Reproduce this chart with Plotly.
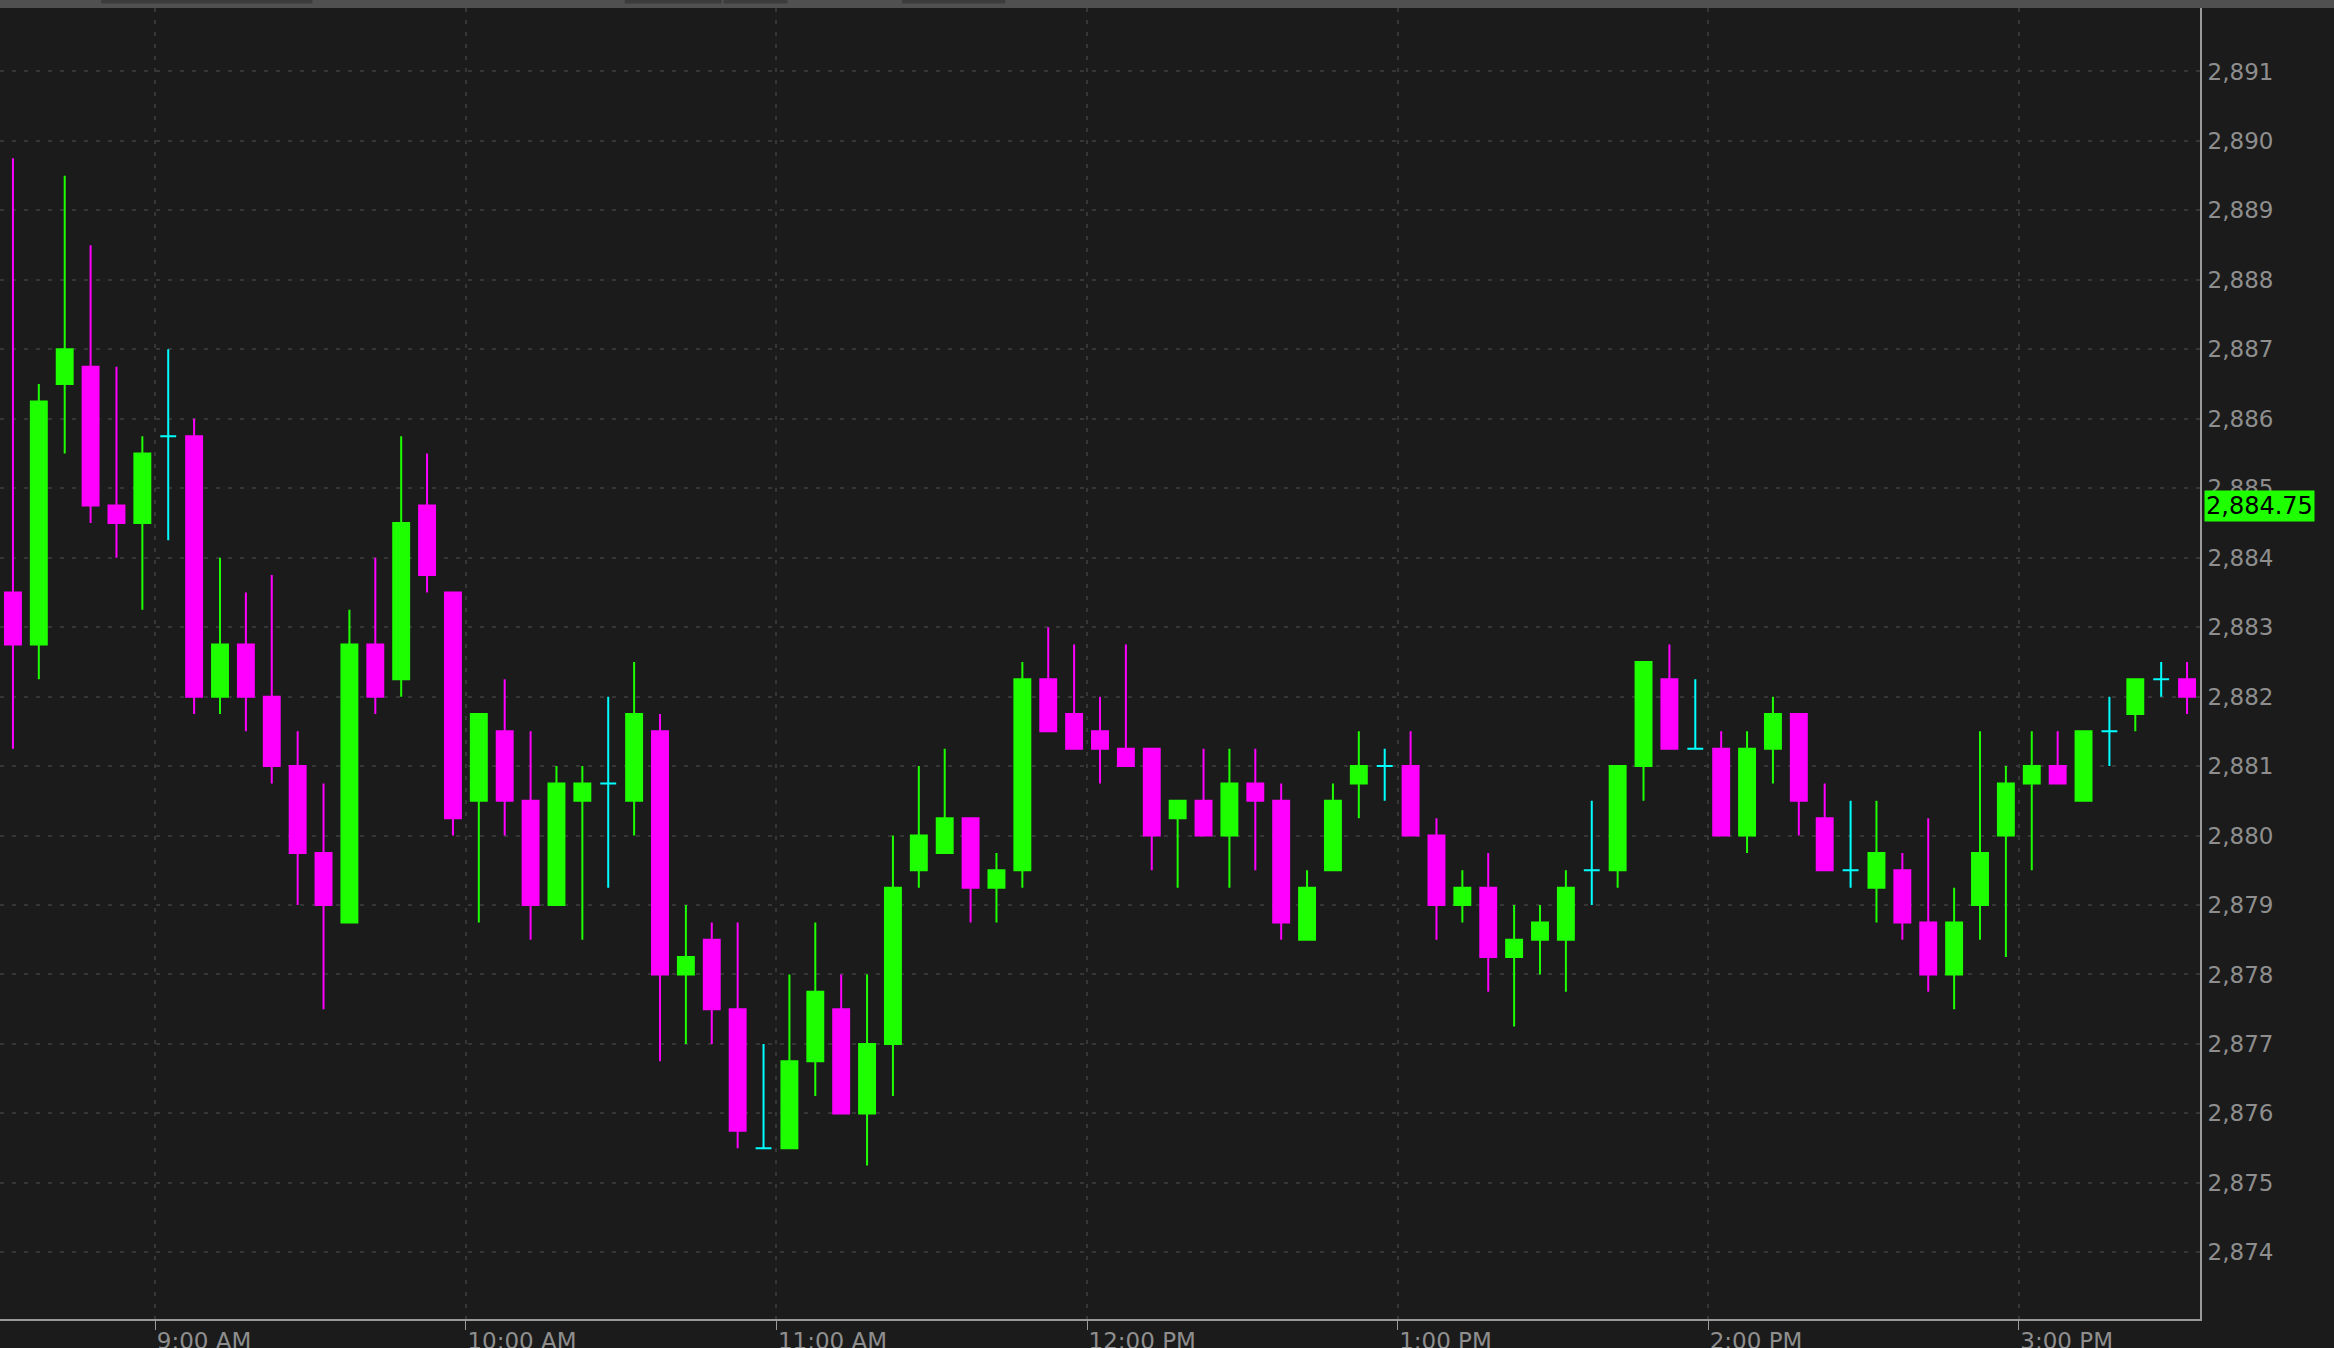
import pandas as pd
import plotly.graph_objects as go

# 5-minute bars, session of one day (bar start times)
bar_times = [
    "08:30", "08:35", "08:40", "08:45", "08:50", "08:55",
    "09:00", "09:05", "09:10", "09:15", "09:20", "09:25", "09:30", "09:35", "09:40", "09:45", "09:50", "09:55",
    "10:00", "10:05", "10:10", "10:15", "10:20", "10:25", "10:30", "10:35", "10:40", "10:45", "10:50", "10:55",
    "11:00", "11:05", "11:10", "11:15", "11:20", "11:25", "11:30", "11:35", "11:40", "11:45", "11:50", "11:55",
    "12:00", "12:05", "12:10", "12:15", "12:20", "12:25", "12:30", "12:35", "12:40", "12:45", "12:50", "12:55",
    "13:00", "13:05", "13:10", "13:15", "13:20", "13:25", "13:30", "13:35", "13:40", "13:45", "13:50", "13:55",
    "14:00", "14:05", "14:10", "14:15", "14:20", "14:25", "14:30", "14:35", "14:40", "14:45", "14:50", "14:55",
    "15:00", "15:05", "15:10", "15:15", "15:20", "15:25", "15:30",
]

open_px = [
    2883.5, 2882.75, 2886.5, 2886.75, 2884.75, 2884.5,
    2885.75, 2885.75, 2882, 2882.75, 2882, 2881, 2879.75, 2878.75, 2882.75, 2882.25, 2884.75, 2883.5,
    2880.5, 2881.5, 2880.5, 2879, 2880.5, 2880.75, 2880.5, 2881.5, 2878, 2878.5, 2877.5, 2875.5,
    2875.5, 2876.75, 2877.5, 2876, 2877, 2879.5, 2879.75, 2880.25, 2879.25, 2879.5, 2882.25, 2881.75,
    2881.5, 2881.25, 2881.25, 2880.25, 2880.5, 2880, 2880.75, 2880.5, 2878.5, 2879.5, 2880.75, 2881,
    2881, 2880, 2879, 2879.25, 2878.25, 2878.5, 2878.5, 2879.5, 2879.5, 2881, 2882.25, 2881.25,
    2881.25, 2880, 2881.25, 2881.75, 2880.25, 2879.5, 2879.25, 2879.5, 2878.75, 2878, 2879, 2880,
    2880.75, 2881, 2880.5, 2881.5, 2881.75, 2882.25, 2882.25,
]
high_px = [
    2889.75, 2886.5, 2889.5, 2888.5, 2886.75, 2885.75,
    2887, 2886, 2884, 2883.5, 2883.75, 2881.5, 2880.75, 2883.25, 2884, 2885.75, 2885.5, 2883.5,
    2881.75, 2882.25, 2881.5, 2881, 2881, 2882, 2882.5, 2881.75, 2879, 2878.75, 2878.75, 2877,
    2878, 2878.75, 2878, 2878, 2880, 2881, 2881.25, 2880.25, 2879.75, 2882.5, 2883, 2882.75,
    2882, 2882.75, 2881.25, 2880.5, 2881.25, 2881.25, 2881.25, 2880.75, 2879.5, 2880.75, 2881.5, 2881.25,
    2881.5, 2880.25, 2879.5, 2879.75, 2879, 2879, 2879.5, 2880.5, 2881, 2882.5, 2882.75, 2882.25,
    2881.5, 2881.5, 2882, 2881.75, 2880.75, 2880.5, 2880.5, 2879.75, 2880.25, 2879.25, 2881.5, 2881,
    2881.5, 2881.5, 2881.5, 2882, 2882.25, 2882.5, 2882.5,
]
low_px = [
    2881.25, 2882.25, 2885.5, 2884.5, 2884, 2883.25,
    2884.25, 2881.75, 2881.75, 2881.5, 2880.75, 2879, 2877.5, 2878.75, 2881.75, 2882, 2883.5, 2880,
    2878.75, 2880, 2878.5, 2879, 2878.5, 2879.25, 2880, 2876.75, 2877, 2877, 2875.5, 2875.5,
    2875.5, 2876.25, 2876, 2875.25, 2876.25, 2879.25, 2879.75, 2878.75, 2878.75, 2879.25, 2881.5, 2881.25,
    2880.75, 2881, 2879.5, 2879.25, 2880, 2879.25, 2879.5, 2878.5, 2878.5, 2879.5, 2880.25, 2880.5,
    2880, 2878.5, 2878.75, 2877.75, 2877.25, 2878, 2877.75, 2879, 2879.25, 2880.5, 2881.25, 2881.25,
    2880, 2879.75, 2880.75, 2880, 2879.5, 2879.25, 2878.75, 2878.5, 2877.75, 2877.5, 2878.5, 2878.25,
    2879.5, 2880.75, 2880.5, 2881, 2881.5, 2882, 2881.75,
]
close_px = [
    2882.75, 2886.25, 2887, 2884.75, 2884.5, 2885.5,
    2885.75, 2882, 2882.75, 2882, 2881, 2879.75, 2879, 2882.75, 2882, 2884.5, 2883.75, 2880.25,
    2881.75, 2880.5, 2879, 2880.75, 2880.75, 2880.75, 2881.75, 2878, 2878.25, 2877.5, 2875.75, 2875.5,
    2876.75, 2877.75, 2876, 2877, 2879.25, 2880, 2880.25, 2879.25, 2879.5, 2882.25, 2881.5, 2881.25,
    2881.25, 2881, 2880, 2880.5, 2880, 2880.75, 2880.5, 2878.75, 2879.25, 2880.5, 2881, 2881,
    2880, 2879, 2879.25, 2878.25, 2878.5, 2878.75, 2879.25, 2879.5, 2881, 2882.5, 2881.25, 2881.25,
    2880, 2881.25, 2881.75, 2880.5, 2879.5, 2879.5, 2879.75, 2878.75, 2878, 2878.75, 2879.75, 2880.75,
    2881, 2880.75, 2881.5, 2881.5, 2882.25, 2882.25, 2882,
]

hour_ticks = ["09:00", "10:00", "11:00", "12:00", "13:00", "14:00", "15:00"]
price_ticks = list(range(2874, 2892))
last_price = 2884.75

session_day = "2019-03-05"

UP = "#1eff00"
DOWN = "#ff00ff"
FLAT = "#00ffff"
BG = "#1b1b1b"
GRID = "#363636"
AXIS = "#9a9a9a"
LABEL = "#8e8e8e"
FONT = "DejaVu Sans, Liberation Sans, sans-serif"


def build_frame():
    df = pd.DataFrame({
        "time": pd.to_datetime([session_day + " " + t for t in bar_times]),
        "open": open_px,
        "high": high_px,
        "low": low_px,
        "close": close_px,
    })
    df["kind"] = "flat"
    df.loc[df["close"] > df["open"], "kind"] = "up"
    df.loc[df["close"] < df["open"], "kind"] = "down"
    return df


def candle_trace(part, color):
    style = dict(line=dict(color=color, width=2), fillcolor=color)
    return go.Candlestick(
        x=part["time"], open=part["open"], high=part["high"],
        low=part["low"], close=part["close"],
        xperiod=300000, xperiodalignment="middle",
        increasing=style, decreasing=style,
        whiskerwidth=0, showlegend=False, hoverinfo="skip",
    )


df = build_frame()

fig = go.Figure()
for kind, color in [("up", UP), ("down", DOWN), ("flat", FLAT)]:
    fig.add_trace(candle_trace(df[df["kind"] == kind], color))

fig.update_layout(
    width=2334, height=1348,
    margin=dict(l=0, r=134, t=8, b=29),
    paper_bgcolor=BG, plot_bgcolor=BG,
    font=dict(family=FONT, size=23, color=LABEL),
    boxgap=0.385, boxgroupgap=0,
    xaxis=dict(
        type="date",
        range=[session_day + " 08:30", session_day + " 15:35"],
        rangeslider=dict(visible=False),
        tickvals=[session_day + " " + t for t in hour_ticks],
        tickformat="%-I:%M %p",
        ticklabelposition="outside right",
        ticks="outside", ticklen=9, tickwidth=1, tickcolor=AXIS,
        showline=True, linecolor=AXIS, linewidth=2,
        showgrid=True, gridcolor=GRID, gridwidth=2, griddash="4px,8px",
        zeroline=False, automargin=False, fixedrange=True,
    ),
    yaxis=dict(
        side="right",
        range=[2873.04, 2891.914],
        tickvals=price_ticks,
        tickformat=",d",
        ticks="", ticklabelstandoff=1,
        showline=True, linecolor=AXIS, linewidth=2,
        showgrid=True, gridcolor=GRID, gridwidth=2, griddash="4px,8px",
        zeroline=False, automargin=False, fixedrange=True,
    ),
)

# top toolbar strip with darker tabs
fig.add_shape(type="rect", xref="paper", yref="paper", x0=0, x1=1.061, y0=1.0, y1=1.0065,
              fillcolor="#505050", line=dict(width=0), layer="above")
for x0, x1 in [(0.046, 0.142), (0.284, 0.328), (0.329, 0.358), (0.41, 0.457)]:
    fig.add_shape(type="rect", xref="paper", yref="paper", x0=x0, x1=x1, y0=1.0035, y1=1.0065,
                  fillcolor="#3c3c3c", line=dict(width=0), layer="above")

# last price marker on the price axis
fig.add_annotation(
    xref="paper", yref="y", x=1, y=last_price, xanchor="left", xshift=4,
    text=f"{last_price:,.2f}", showarrow=False,
    bgcolor=UP, borderpad=1,
    font=dict(family=FONT, size=24, color="#000000"),
)

fig.write_html("out.html", config={"displayModeBar": False},
               post_script="document.body.style.margin='0px';")
